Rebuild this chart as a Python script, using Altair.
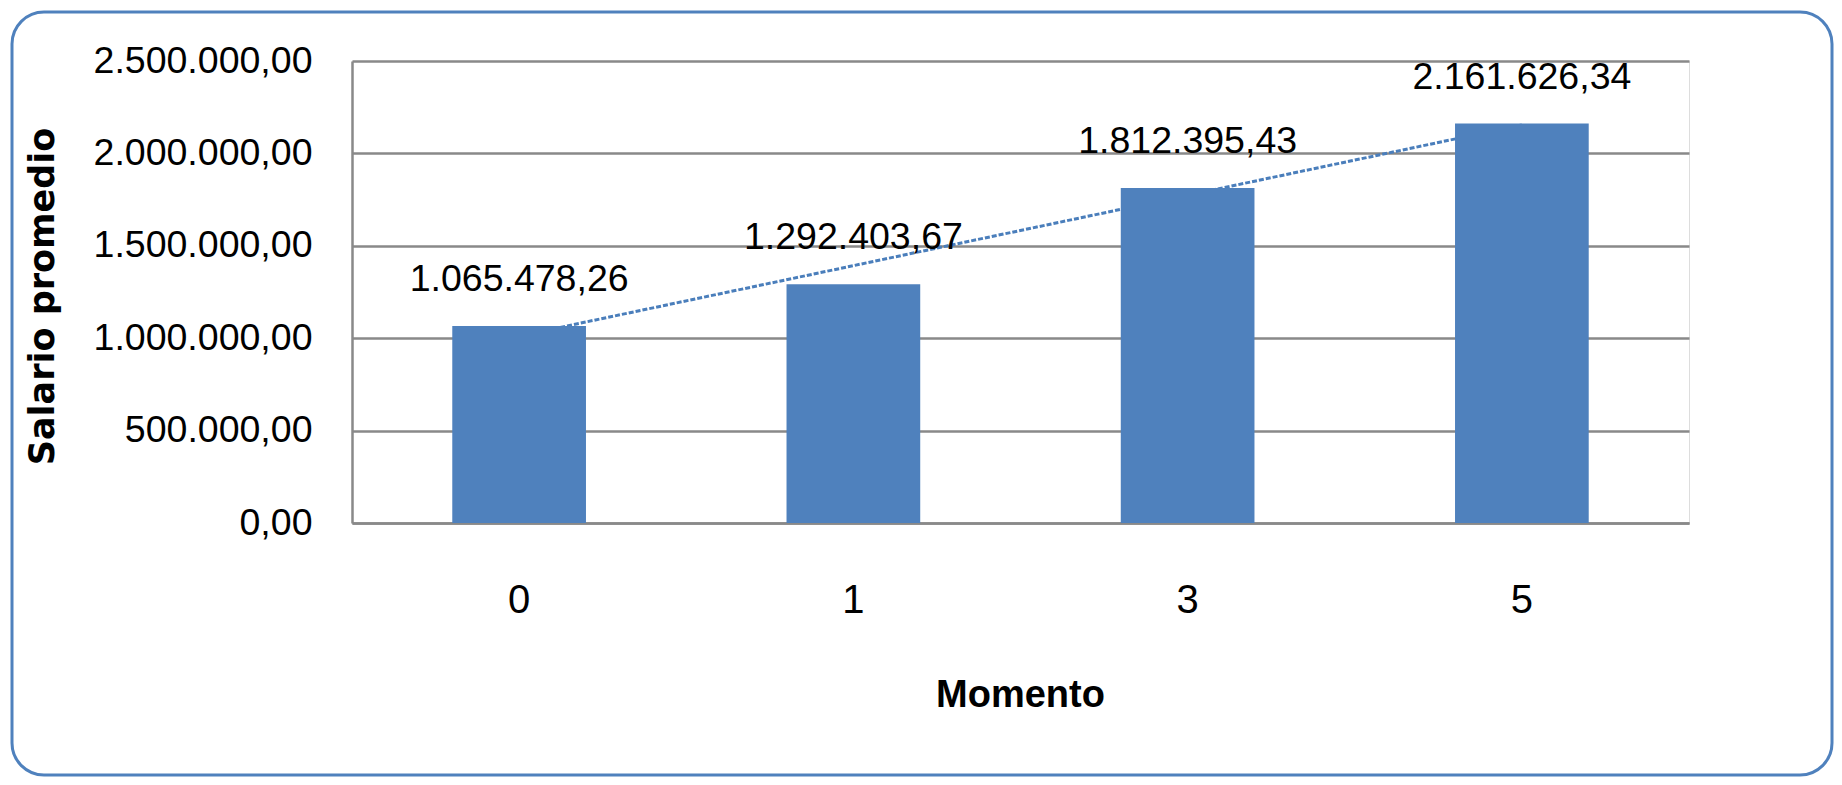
import json
import altair as alt
import pandas as pd

momentos = ["0", "1", "3", "5"]
salarios = [1065478.26, 1292403.67, 1812395.43, 2161626.34]
indices = [1, 2, 3, 4]
y_ticks = [0, 500000, 1000000, 1500000, 2000000, 2500000]

BLUE = "#4F81BD"
GRAY = "#898989"
NUM_FONT = "Liberation Sans, Arial, sans-serif"

df = pd.DataFrame({"momento": momentos, "salario": salarios, "idx": indices})

es_fmt = ("replace(replace(replace(format({v}, ',.2f'), regexp('[,]','g'), '#'), "
          "regexp('[.]','g'), ','), regexp('#','g'), '.')")

x_scale = alt.Scale(domain=momentos, paddingInner=0, paddingOuter=0)
y_scale = alt.Scale(domain=[0, 2500000], nice=False, zero=True)

x_axis = alt.Axis(
    labelAngle=0, ticks=False, labelPadding=57, labelFont=NUM_FONT, labelFontSize=40,
    labelColor="#000000", domainColor=GRAY, domainWidth=2.5, grid=False, labelLimit=0,
    title="Momento", titleFont="Liberation Sans", titleFontSize=38, titleFontWeight="bold",
    titleColor="#000000", titleX=668, titleY=183, titleBaseline="alphabetic",
)
y_axis = alt.Axis(
    values=y_ticks, labelExpr=es_fmt.format(v="datum.value"), ticks=False, labelPadding=40,
    labelFont=NUM_FONT, labelFontSize=37.5, labelColor="#000000", labelLimit=0,
    domainColor=GRAY, domainWidth=2.5, grid=True, gridColor=GRAY, gridWidth=2.5,
    title="Salario promedio", titleFont="DejaVu Sans", titleFontSize=35,
    titleFontWeight="bold", titleColor="#000000", titleAngle=-90, titleX=-299,
    titleY=235, titleBaseline="alphabetic", titleAlign="center",
)

base = alt.Chart(df)

frame = alt.Chart(pd.DataFrame({"k": [0]})).mark_rect(
    fillOpacity=0, stroke=BLUE, strokeWidth=3, cornerRadius=32
).encode(
    x=alt.value(-340), x2=alt.value(1480), y=alt.value(-49), y2=alt.value(714)
)

trend = base.transform_regression(
    "idx", "salario", method="linear"
).transform_calculate(
    momento=f"{json.dumps(momentos)}[round(datum.idx) - 1]"
).mark_line(color="#4A7EBB", strokeWidth=3, strokeDash=[5, 2]).encode(
    x=alt.X("momento:N", scale=x_scale, axis=x_axis, sort=momentos),
    y=alt.Y("salario:Q", scale=y_scale, axis=y_axis),
)

bars = base.mark_bar(color=BLUE, width=alt.RelativeBandSize(0.4)).encode(
    x=alt.X("momento:N", scale=x_scale, axis=x_axis, sort=momentos),
    y=alt.Y("salario:Q", scale=y_scale, axis=y_axis),
)

labels = base.transform_calculate(
    label=es_fmt.format(v="datum.salario")
).mark_text(
    font=NUM_FONT, fontSize=37.5, color="#000000", baseline="alphabetic", dy=-35
).encode(
    x=alt.X("momento:N", scale=x_scale, axis=x_axis, sort=momentos),
    y=alt.Y("salario:Q", scale=y_scale, axis=y_axis),
    text="label:N",
)

chart = alt.layer(frame, trend, bars, labels).properties(
    width=1337,
    height=462,
    autosize=alt.AutoSizeParams(type="none"),
    padding={"left": 344, "top": 53, "right": 145, "bottom": 254},
).configure_view(stroke=None).configure(background="#ffffff")

chart.save("out.html", embed_options={"renderer": "svg", "actions": False})
